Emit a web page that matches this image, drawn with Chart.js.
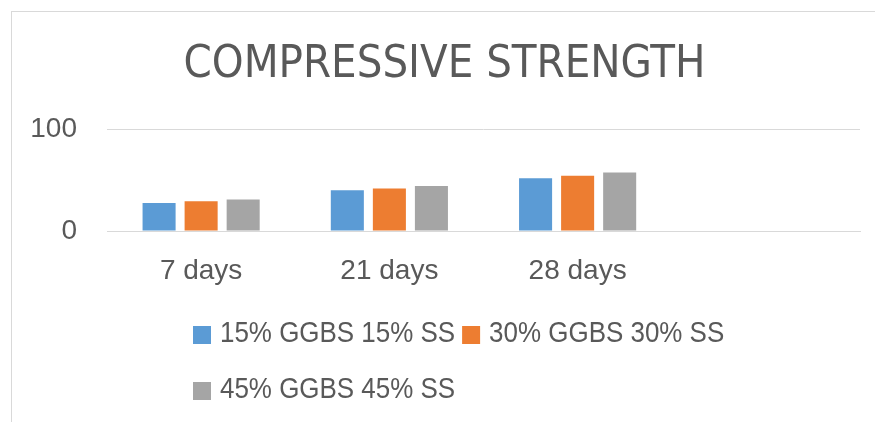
<!DOCTYPE html>
<html>
<head>
<meta charset="utf-8">
<script src="https://cdn.jsdelivr.net/npm/chart.js@4"></script>
<style>
  html, body { margin: 0; padding: 0; background: #fff; overflow: hidden; }
  #frame { position: absolute; left: 11px; top: 11px; width: 900px; height: 500px; border: 1px solid #d9d9d9; }
  #wrap { position: absolute; left: 12px; top: 0; width: 874px; height: 422px; }
</style>
</head>
<body>
<div id="frame"></div>
<div id="wrap"><canvas id="chart" width="874" height="422"></canvas></div>
<script>
const categories = ['7 days', '21 days', '28 days', ''];
const seriesNames = ['15% GGBS 15% SS', '30% GGBS 30% SS', '45% GGBS 45% SS'];
const ggbs15 = [27.5, 40, 51.8];
const ggbs30 = [29.2, 41.7, 54.1];
const ggbs45 = [30.9, 44, 57.4];
const yTicks = [0, 100];

const textColor = '#595959';
const mainFont = "'Liberation Sans', Arial, sans-serif";
const titleFont = "'Liberation Sans Narrow', 'DejaVu Sans Condensed', 'Liberation Sans', sans-serif";

// legend drawn by hand so the second row starts under the first one
// (text squeezed a little, the original uses a narrow face)
const sideLegend = {
  id: 'sideLegend',
  afterDraw(chart) {
    const ctx = chart.ctx;
    const squeeze = 0.865;
    ctx.save();
    ctx.font = '30px ' + mainFont;
    ctx.textBaseline = 'middle';
    let x = 181, y = 334;
    const rowLimit = 760;
    chart.data.datasets.forEach((ds, i) => {
      const tw = ctx.measureText(ds.label).width * squeeze;
      const w = 18 + 9 + tw;
      if (i > 0 && x + w > rowLimit) { x = 181; y += 56; }
      ctx.fillStyle = ds.backgroundColor;
      ctx.fillRect(x, y - 8, 18, 18);
      ctx.fillStyle = textColor;
      ctx.save();
      ctx.translate(x + 27, y);
      ctx.scale(squeeze, 1);
      ctx.fillText(ds.label, 0, 0);
      ctx.restore();
      x += w + 7;
    });
    ctx.restore();
  }
};

new Chart(document.getElementById('chart'), {
  type: 'bar',
  data: {
    labels: categories,
    datasets: [
      { label: seriesNames[0], data: ggbs15, backgroundColor: '#5b9bd5' },
      { label: seriesNames[1], data: ggbs30, backgroundColor: '#ed7d31' },
      { label: seriesNames[2], data: ggbs45, backgroundColor: '#a5a5a5' }
    ]
  },
  options: {
    responsive: false,
    animation: false,
    layout: { padding: { left: 17, right: 26, top: 0, bottom: 131 } },
    datasets: { bar: { categoryPercentage: 0.67, barPercentage: 0.786 } },
    plugins: {
      legend: { display: false },
      tooltip: { enabled: false },
      title: {
        display: true,
        text: 'COMPRESSIVE STRENGTH',
        color: textColor,
        font: { family: titleFont, size: 45, weight: 'normal' },
        padding: { top: 38, bottom: 37 }
      }
    },
    scales: {
      x: {
        grid: { display: false, drawTicks: false },
        border: { display: true, color: '#d9d9d9', width: 1 },
        ticks: { color: textColor, font: { family: mainFont, size: 28 }, padding: 23, maxRotation: 0 },
        afterFit(axis) { axis.height = 60; axis.paddingLeft = 0; axis.paddingRight = 0; }
      },
      y: {
        min: yTicks[0],
        max: yTicks[1],
        border: { display: false },
        grid: { color: '#d9d9d9', lineWidth: 1, drawTicks: false },
        afterBuildTicks(axis) { axis.ticks = yTicks.map(v => ({ value: v })); },
        ticks: { color: textColor, font: { family: mainFont, size: 28 }, padding: 30 },
        afterFit(axis) { axis.width = 78; }
      }
    }
  },
  plugins: [sideLegend]
});
</script>
</body>
</html>
